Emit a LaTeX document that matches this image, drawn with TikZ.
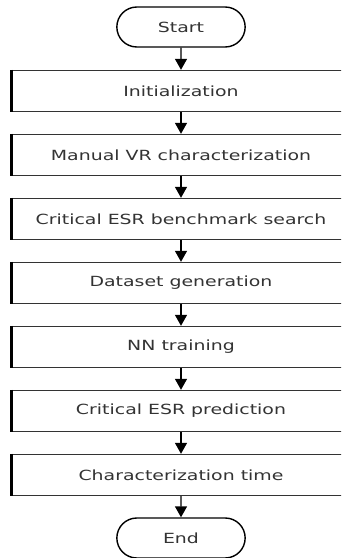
\documentclass[tikz,border=0pt]{standalone}
\usepackage{fontspec}
\setmainfont{DejaVu Sans}
\usetikzlibrary{shapes.misc,arrows.meta}
\begin{document}
\begin{tikzpicture}[x=1pt,y=-1pt,
  term/.style={rounded rectangle, draw=black, line width=1.4pt, minimum width=135pt, minimum height=40pt, font=\fontsize{14}{16}\selectfont, text=black!80},
  stepbox/.style={rectangle, draw=black!80, line width=1.4pt, minimum width=338pt, minimum height=41pt, font=\fontsize{14}{16}\selectfont, text=black!80},
  flow/.style={line width=1.4pt, -{Triangle[length=11pt,width=12pt]}}]
\useasboundingbox (0,0) rectangle (341,558);
\clip (0,0) rectangle (341,558);
\node[term] (start) at (181,27) {\addfontfeature{FakeStretch=1.35}Start};
\foreach \i/\txt in {1/Initialization, 2/Manual VR characterization, 3/Critical ESR benchmark search, 4/Dataset generation, 5/NN training, 6/Critical ESR prediction, 7/Characterization time}
  \node[stepbox] (s\i) at (181,27+64*\i) {\addfontfeature{FakeStretch=1.35}\txt};
\node[term] (end) at (181,538) {\addfontfeature{FakeStretch=1.35}End};
\foreach \i in {1,...,7}
  \draw[line width=3.5pt] (s\i.north west) -- (s\i.south west);
\draw[flow] (start) -- (s1);
\foreach \i [evaluate=\i as \j using int(\i+1)] in {1,...,6}
  \draw[flow] (s\i) -- (s\j);
\draw[flow] (s7) -- (end);
\end{tikzpicture}
\end{document}
